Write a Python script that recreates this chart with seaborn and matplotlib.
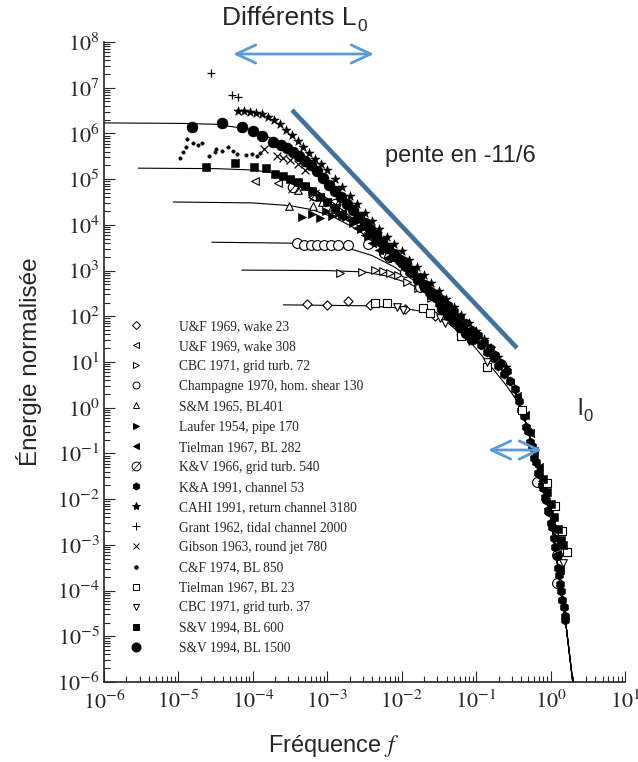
import numpy as np
import pandas as pd
import matplotlib
matplotlib.use("Agg")
import matplotlib.pyplot as plt
import seaborn as sns
from matplotlib.lines import Line2D
from matplotlib.ticker import LogLocator, FuncFormatter, NullFormatter

# all values are log10 exponents (f, E)

# model curves: each plateau part, then the shared collapse line
common_lf = [-2.1, -1.8, -1.5, -1.2, -1.0, -0.8, -0.6, -0.5, -0.4, -0.3, -0.2, -0.1, 0.0, 0.1, 0.2, 0.32]
common_le = [3.36, 2.85, 2.33, 1.83, 1.5, 1.12, 0.72, 0.45, 0.02, -0.5, -1.15, -1.75, -2.4, -3.5, -4.65, -6.3]
c1_lf = [-6.0, -5.0, -4.5, -4.0, -3.6, -3.3, -3.0, -2.7, -2.4]
c1_le = [6.23, 6.22, 6.2, 6.08, 5.77, 5.4, 4.92, 4.38, 3.85]
c2_lf = [-5.54, -4.5, -4.0, -3.7, -3.4, -3.1, -2.8, -2.5, -2.2]
c2_le = [5.24, 5.23, 5.2, 5.13, 4.97, 4.7, 4.33, 3.92, 3.5]
c3_lf = [-5.07, -4.0, -3.5, -3.2, -2.9, -2.6, -2.3, -2.0]
c3_le = [4.5, 4.48, 4.42, 4.33, 4.16, 3.9, 3.55, 3.14]
c4_lf = [-4.55, -3.5, -3.0, -2.7, -2.4, -2.1, -1.8, -1.6]
c4_le = [3.62, 3.6, 3.56, 3.48, 3.33, 3.08, 2.74, 2.45]
c5_lf = [-4.15, -3.0, -2.5, -2.2, -1.9, -1.6, -1.3]
c5_le = [3.01, 3.0, 2.97, 2.88, 2.72, 2.45, 2.02]
c6_lf = [-3.59, -2.5, -2.0, -1.7, -1.4, -1.1, -0.85, -0.6, -0.45]
c6_le = [2.25, 2.23, 2.18, 2.1, 1.88, 1.48, 1.0, 0.5, 0.15]

# measured points
uf23_lf = [-3.27, -3.0, -2.72, -2.42, -1.95, -1.55, -1.2]
uf23_le = [2.27, 2.25, 2.33, 2.24, 2.17, 2.0, 1.62]
uf308_lf = [-3.97, -3.66, -3.2, -2.6, -1.5, -0.54]
uf308_le = [4.96, 4.92, 4.6, 4.05, 2.22, 0.54]
cbc72_lf = [-2.83, -2.53, -2.36, -2.25, -2.16, -2.05, -1.93, -1.78, -1.6, -1.4]
cbc72_le = [2.95, 2.97, 3.01, 2.99, 2.95, 2.9, 2.75, 2.62, 2.4, 2.1]
champ_lf = [-3.41, -3.31, -3.22, -3.14, -3.04, -2.95, -2.85, -2.72, -2.45, -2.24, -2.17, -1.95, -1.75, -0.18, 0.09, 0.08]
champ_le = [3.6, 3.56, 3.56, 3.56, 3.56, 3.56, 3.56, 3.56, 3.58, 3.38, 3.3, 2.96, 2.63, -1.63, -3.23, -3.84]
sm_lf = [-3.52, -3.39, -3.19, -3.07, -2.95, -2.8]
sm_le = [4.42, 4.76, 4.42, 4.5, 4.35, 4.27]
laufer_lf = [-3.34, -3.2, -3.1, -3.02, -2.93, -2.84, -2.75, -2.65, -2.55, -2.45, -2.35, -2.25]
laufer_le = [4.17, 4.24, 4.16, 4.3, 4.2, 4.25, 4.18, 4.05, 3.9, 3.75, 3.6, 3.43]
tiel282_lf = [-3.5, -3.4, -3.3, -3.2, -3.1, -3.0, -2.9, -2.8, -2.7, -2.6, -2.5, -2.4, -2.3, -2.2,
              -0.45, -0.35, -0.28, -0.22, -0.16, -0.11, -0.07, -0.03, 0.01, 0.05, 0.09, 0.12]
tiel282_le = [4.95, 4.9, 4.82, 4.72, 4.6, 4.5, 4.38, 4.26, 4.1, 3.94, 3.77, 3.6, 3.44, 3.28,
              0.25, -0.15, -0.55, -0.95, -1.3, -1.6, -1.9, -2.2, -2.5, -2.85, -3.2, -3.55]
kv_lf = [-3.46, -3.18, -2.9]
kv_le = [4.82, 4.66, 4.45]
ka_lf = [-2.6, -2.5, -2.4, -2.3, -2.2, -2.1, -2.0, -1.9, -1.8, -1.7, -1.6, -1.5, -1.42, -1.34, -1.26,
         -1.18, -1.1, -1.02, -0.94, -0.86, -0.78, -0.7, -0.62, -0.55, -0.48, -0.42, -0.36, -0.3, -0.25,
         -0.2, -0.15, -0.1, -0.06, -0.02, 0.02, 0.06, 0.1, 0.13, 0.16, 0.19,
         -1.96, -1.86, -1.76, -1.66, -1.56, -1.46, -1.38, -1.3, -1.22, -1.14, -1.06, -0.98, -0.9,
         -0.82, -0.74, -0.66, -0.58,
         -0.4, -0.33, -0.27, -0.22, -0.17, -0.12, -0.08, -0.04, 0.0, 0.04, 0.08, 0.115, 0.145, 0.175, 0.2]
ka_le = [4.12, 3.97, 3.8, 3.63, 3.47, 3.3, 3.14, 2.97, 2.8, 2.62, 2.45, 2.3, 2.17, 2.04, 1.91,
         1.77, 1.64, 1.5, 1.37, 1.22, 1.08, 0.92, 0.74, 0.58, 0.4, 0.14, -0.18, -0.5, -0.84,
         -1.18, -1.46, -1.76, -2.02, -2.28, -2.6, -3.05, -3.5, -3.85, -4.2, -4.55,
         3.2, 3.02, 2.86, 2.69, 2.52, 2.37, 2.25, 2.12, 1.98, 1.85, 1.71, 1.58, 1.44,
         1.3, 1.15, 0.98, 0.8,
         -0.05, -0.42, -0.75, -1.1, -1.42, -1.7, -1.98, -2.25, -2.52, -2.85, -3.25, -3.65, -4.0, -4.35, -4.65]
cahi_lf = [-4.2, -4.12, -4.04, -3.96, -3.88, -3.8, -3.72, -3.64, -3.56, -3.48, -3.4, -3.32, -3.24,
           -3.16, -3.08, -3.0, -2.9, -2.8, -2.7, -2.6, -2.5, -2.4, -2.3, -2.2, -2.1, -2.0, -1.9,
           -1.8, -1.7, -1.6, -1.5, -1.4, -1.3, -1.2, -1.1, -1.0, -0.9, -0.8, -0.7, -0.6]
cahi_le = [6.5, 6.49, 6.47, 6.45, 6.42, 6.37, 6.3, 6.2, 6.08, 5.96, 5.84, 5.71, 5.58,
           5.45, 5.33, 5.2, 5.01, 4.82, 4.63, 4.45, 4.27, 4.08, 3.91, 3.74, 3.58, 3.42, 3.24,
           3.07, 2.9, 2.72, 2.55, 2.38, 2.2, 2.03, 1.85, 1.68, 1.5, 1.3, 1.1, 0.88]
grant_lf = [-4.56, -4.28, -4.2]
grant_le = [7.32, 6.84, 6.79]
gibson_lf = [-3.85, -3.68, -3.6, -3.5, -3.4, -3.3]
gibson_le = [5.66, 5.5, 5.47, 5.42, 5.33, 5.2]
cf_lf = [-4.98, -4.94, -4.88, -4.8, -4.74, -4.68, -4.9, -4.59, -4.51, -4.49, -4.41, -4.33, -4.27,
         -4.21, -4.09, -4.01, -3.94, -3.9]
cf_le = [5.46, 5.59, 5.88, 5.79, 5.75, 5.79, 5.7, 5.51, 5.59, 5.66, 5.61, 5.7, 5.61,
         5.55, 5.53, 5.55, 5.51, 5.57]
tiel23_lf = [-2.36, -2.2, -1.71, -1.62, -1.21, -0.85, -0.38, -0.05, 0.06, 0.16, 0.22]
tiel23_le = [2.29, 2.29, 2.18, 2.07, 1.57, 0.89, -0.05, -1.65, -2.15, -2.7, -3.16]
cbc37_lf = [-2.06, -1.98, -1.48, -1.42, -1.1, -0.85, 0.17]
cbc37_le = [2.2, 2.14, 1.96, 1.85, 1.45, 1.0, -3.4]
sv600_lf = [-4.63, -4.24, -3.98, -3.82, -3.7, -3.6, -3.5, -3.4, -3.3, -3.2, -3.1, -3.0, -2.9, -2.8,
            -0.1, -0.05, 0.0, 0.05, 0.1, 0.14, 0.17]
sv600_le = [5.26, 5.35, 5.26, 5.24, 5.11, 5.07, 5.0, 4.93, 4.84, 4.73, 4.62, 4.5, 4.36, 4.22,
            -1.55, -1.85, -2.1, -2.4, -2.65, -2.9, -3.0]
sv1500_lf = [-4.82, -4.41, -4.15, -4.0, -3.88, -3.73, -3.62, -3.54, -3.46, -3.38, -3.3, -3.22, -3.14,
             -3.06, -2.98, -2.9, -2.82, -2.74, -2.66, -2.58, -2.5, -2.42, -2.34, -2.26, -2.18, -2.1,
             -2.02, -1.94, -1.86, -1.78, -1.7, -1.62, -1.54, -1.46, -1.38, -1.3, -1.22, -1.14, -1.06]
sv1500_le = [6.14, 6.23, 6.14, 6.05, 5.94, 5.82, 5.74, 5.68, 5.6, 5.5, 5.4, 5.3, 5.17,
             5.03, 4.88, 4.74, 4.6, 4.46, 4.32, 4.18, 4.04, 3.91, 3.77, 3.63, 3.5, 3.37,
             3.23, 3.1, 2.96, 2.82, 2.68, 2.54, 2.42, 2.16, 2.02, 1.9, 1.77, 1.63, 1.5]

# label, x, y, marker, filled, size (pt^2), legend marker size
series = [
    ("U&F 1969, wake 23", uf23_lf, uf23_le, "D", False, 22, 4),
    ("U&F 1969, wake 308", uf308_lf, uf308_le, "<", False, 30, 4.5),
    ("CBC 1971, grid turb. 72", cbc72_lf, cbc72_le, ">", False, 30, 4.5),
    ("Champagne 1970, hom. shear 130", champ_lf, champ_le, "o", False, 50, 5),
    ("S&M 1965, BL401", sm_lf, sm_le, "^", False, 30, 4.5),
    ("Laufer 1954, pipe 170", laufer_lf, laufer_le, ">", True, 34, 4.5),
    ("Tielman 1967, BL 282", tiel282_lf, tiel282_le, "<", True, 36, 4.5),
    ("K&V 1966, grid turb. 540", kv_lf, kv_le, "$\\emptyset$", True, 70, 7),
    ("K&A 1991, channel 53", ka_lf, ka_le, "h", True, 44, 5),
    ("CAHI 1991, return channel 3180", cahi_lf, cahi_le, "*", True, 48, 6),
    ("Grant 1962, tidal channel 2000", grant_lf, grant_le, "+", True, 40, 6),
    ("Gibson 1963, round jet 780", gibson_lf, gibson_le, "x", True, 32, 5),
    ("C&F 1974, BL 850", cf_lf, cf_le, "o", True, 6, 2.5),
    ("Tielman 1967, BL 23", tiel23_lf, tiel23_le, "s", False, 28, 4.5),
    ("CBC 1971, grid turb. 37", cbc37_lf, cbc37_le, "v", False, 30, 4.5),
    ("S&V 1994, BL 600", sv600_lf, sv600_le, "s", True, 38, 4.5),
    ("S&V 1994, BL 1500", sv1500_lf, sv1500_le, "o", True, 62, 6.5),
]


def to_df(lf, le):
    return pd.DataFrame({"f": 10.0 ** np.array(lf), "E": 10.0 ** np.array(le)})


sns.set_style("ticks")
plt.rcParams["font.family"] = ["Liberation Sans", "DejaVu Sans"]
plt.rcParams["mathtext.fontset"] = "stix"

W, H = 638, 762
fig = plt.figure(figsize=(W / 100, H / 100), dpi=100)
ax = fig.add_axes([104 / W, 80 / H, 521 / W, 640 / H])
ax.set_xscale("log")
ax.set_yscale("log")

for hlf, hle in [(c1_lf, c1_le), (c2_lf, c2_le), (c3_lf, c3_le),
                 (c4_lf, c4_le), (c5_lf, c5_le), (c6_lf, c6_le)]:
    lf = hlf + [v for v in common_lf if v > hlf[-1]]
    le = hle + [e for v, e in zip(common_lf, common_le) if v > hlf[-1]]
    sns.lineplot(data=to_df(lf, le), x="f", y="E", ax=ax, color="black",
                 lw=0.8, sort=False, estimator=None, zorder=2)

handles = []
for label, lf, le, m, filled, s, ms in series:
    kw = dict(marker=m, s=s, ax=ax, zorder=3)
    if m in ("+", "x"):
        kw.update(color="black", linewidth=0.9)
    elif m.startswith("$"):
        kw.update(color="black", linewidth=0)
    elif filled:
        kw.update(color="black", edgecolor="black", linewidth=0.4)
    else:
        kw.update(facecolor="white", edgecolor="black", linewidth=0.8)
    sns.scatterplot(data=to_df(lf, le), x="f", y="E", **kw)
    handles.append(Line2D([], [], ls="none", marker=m, ms=ms, color="black",
                          mfc=("black" if filled else "white"), mec="black",
                          mew=(0 if m.startswith("$") else 0.7), label=label))

ax.set_xlim(1e-6, 1e1)
ax.set_ylim(1e-6, 1e8)
for a in (ax.xaxis, ax.yaxis):
    a.set_major_locator(LogLocator(base=10, numticks=30))
    a.set_minor_locator(LogLocator(base=10, subs=np.arange(2, 10), numticks=300))
    a.set_major_formatter(FuncFormatter(lambda v, p: r"$10^{%d}$" % round(np.log10(v))))
    a.set_minor_formatter(NullFormatter())
ax.tick_params(which="both", direction="in", width=0.8, labelsize=16)
ax.tick_params(axis="x", which="major", pad=6)
ax.tick_params(axis="y", which="major", pad=3)
ax.tick_params(which="major", length=8)
ax.tick_params(which="minor", length=4)
sns.despine(ax=ax)
for sp in ("left", "bottom"):
    ax.spines[sp].set_linewidth(1.2)

ax.set_ylabel("Énergie normalisée", fontsize=17.5)
ax.yaxis.set_label_coords((42 - 104) / 521, 0.5)
ax.set_xlabel("Fréquence $f$", fontsize=17, va="top")
ax.xaxis.set_label_coords((334 - 104) / 521, (682 - 733) / 640)

leg = ax.legend(handles=handles, loc="upper left", frameon=False,
                bbox_to_anchor=((122 - 104) / 521, (682 - 320) / 640),
                borderaxespad=0, borderpad=0, handlelength=2.0, handletextpad=2.2,
                labelspacing=0.52, prop={"family": "Liberation Serif", "size": 9.75})


def fp(x, y):
    return (x / W, 1 - y / H)


blue = "#5b9bd5"
arrow = dict(arrowstyle="<->,head_length=1.4,head_width=0.65", color=blue, lw=2.0,
             mutation_scale=10, shrinkA=0, shrinkB=0)
ax.annotate("", xy=fp(374, 54), xytext=fp(233, 54), xycoords="figure fraction",
            textcoords="figure fraction", arrowprops=arrow)
ax.annotate("", xy=fp(542, 450), xytext=fp(488, 450), xycoords="figure fraction",
            textcoords="figure fraction", arrowprops=arrow)

fig.add_artist(Line2D([fp(292, 110)[0], fp(517, 348)[0]], [fp(292, 110)[1], fp(517, 348)[1]],
                      transform=fig.transFigure, color="#41719c", lw=3.3, solid_capstyle="butt"))

fig.canvas.draw()
r = fig.canvas.get_renderer()
t = fig.text(*fp(222, 25), "Différents L", fontsize=19, va="baseline")
x1 = t.get_window_extent(r).x1
fig.text((x1 + 1) / W, 1 - 31 / H, "0", fontsize=12.5, va="baseline")
t = fig.text(*fp(577, 415), "l", fontsize=17, va="baseline")
x1 = t.get_window_extent(r).x1
fig.text((x1 + 1) / W, 1 - 421 / H, "0", fontsize=12, va="baseline")
fig.text(*fp(385, 162), "pente en -11/6", fontsize=17, va="baseline")

fig.savefig("out.png", dpi=100)
